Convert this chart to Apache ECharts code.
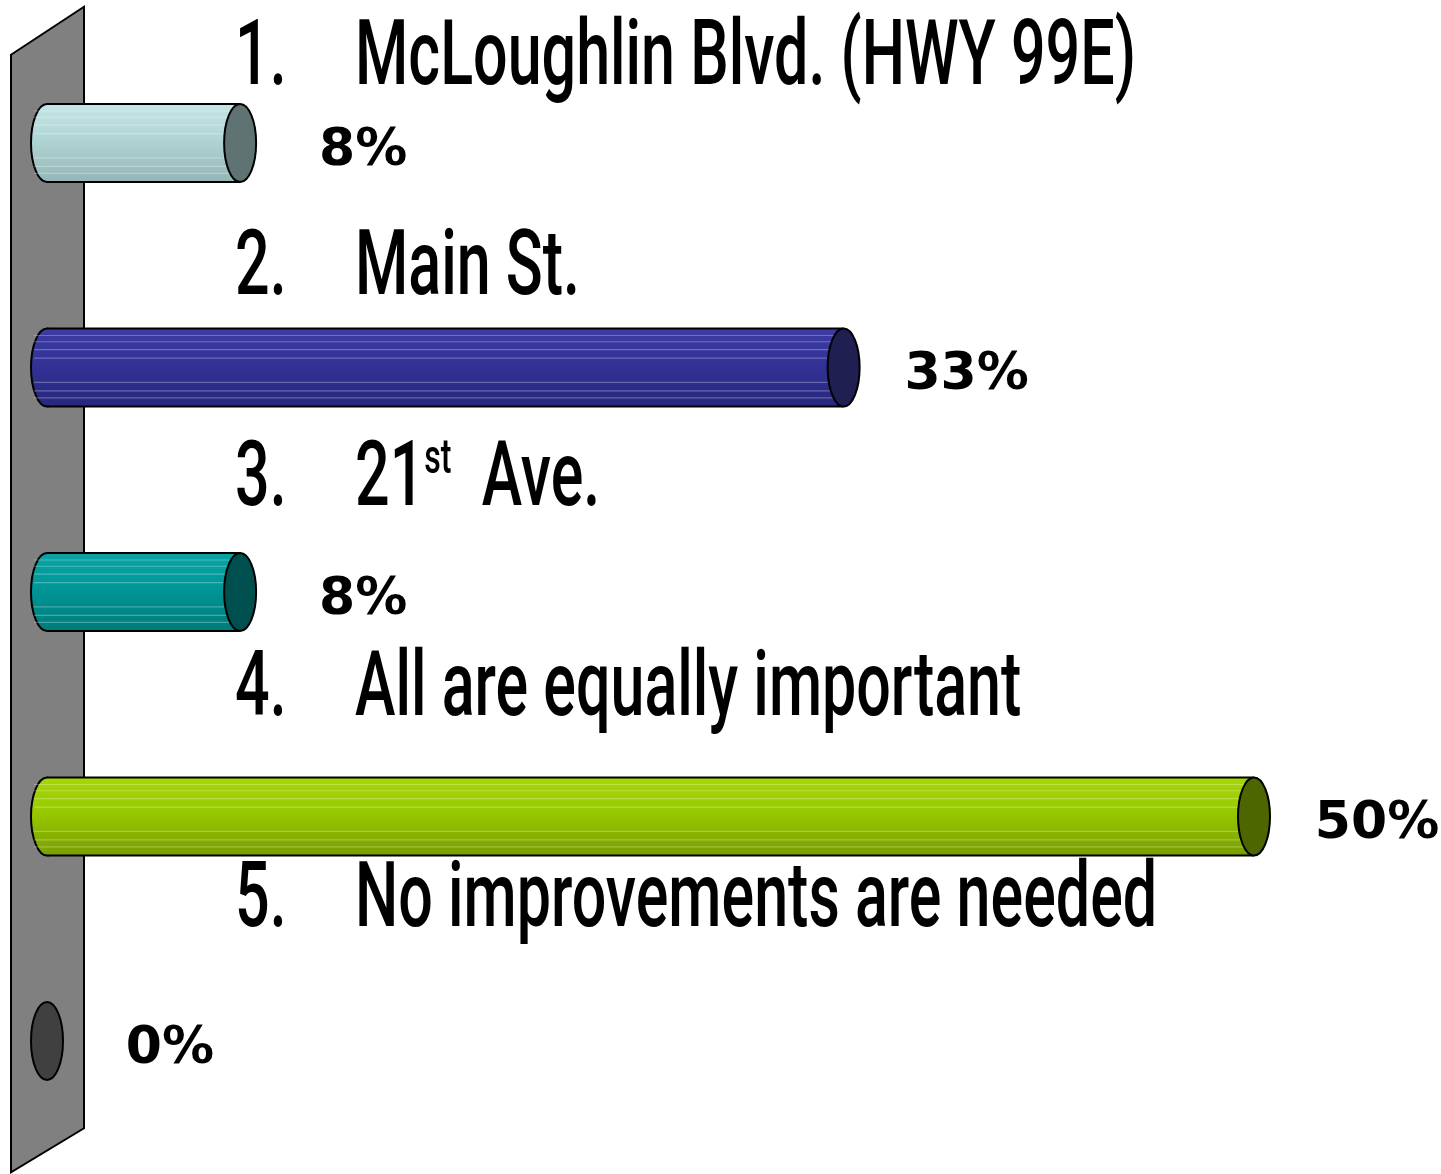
<!DOCTYPE html>
<html>
<head>
<meta charset="utf-8">
<title>Priority</title>
<script src="https://cdn.jsdelivr.net/npm/echarts@6/dist/echarts.min.js"></script>
<style>
html,body{margin:0;padding:0;background:#fff;}
#main{width:1441px;height:1174px;}
</style>
</head>
<body>
<div id="main"></div>
<script>
// 数据
var numbers = ['1.', '2.', '3.', '4.', '5.'];
var categories = ['McLoughlin Blvd. (HWY 99E)', 'Main St.', '21st  Ave.', 'All are equally important', 'No improvements are needed'];
var percents = [8, 33, 8, 50, 0];

// 样式
var bodyTop = ['#c6e5e5', '#3c3ca2', '#0ba3a3', '#a8d608', '#555555'];
var bodyMid = ['#b3d7d7', '#333399', '#009999', '#99cc00', '#4a4a4a'];
var bodyBot = ['#95b6b6', '#27277c', '#007a7a', '#789e00', '#3a3a3a'];
var capColors = ['#5f7373', '#1f1f52', '#004f4f', '#4d6600', '#404040'];
var stripes = [0.09, 0.17, 0.27, 0.38, 0.69, 0.8, 0.89];

function supText(s){
	return s.replace(/(\d+)(st|nd|rd|th)\b/, '$1{sup|$2}');
}

function renderWall(params, api){
	var cs = params.coordSys;
	var x0 = api.coord([0, 0])[0];
	var l = x0 - 36, r = x0 + 37;
	return {
		type: 'polygon',
		shape: {points: [[l, cs.y + 24], [r, cs.y - 24], [r, cs.y + cs.height - 25], [l, cs.y + cs.height + 19]]},
		style: {fill: '#808080', stroke: '#000', lineWidth: 2}
	};
}

function renderBar(params, api){
	var i = params.dataIndex;
	var v = api.value(0);
	var p0 = api.coord([0, i]);
	var p1 = api.coord([v, i]);
	var yc = p0[1];
	var h = 78, rx = 16;
	var x0 = p0[0], xe = p1[0];
	var top = yc - h / 2;
	var grad = new echarts.graphic.LinearGradient(0, 0, 0, 1, [
		{offset: 0, color: bodyTop[i]},
		{offset: 0.4, color: bodyMid[i]},
		{offset: 1, color: bodyBot[i]}
	]);
	var children = [];
	if (v > 0) {
		children.push({
			type: 'ellipse',
			shape: {cx: x0, cy: yc, rx: rx, ry: h / 2},
			style: {fill: grad, stroke: '#000', lineWidth: 2}
		});
		children.push({
			type: 'rect',
			shape: {x: x0, y: top, width: xe - x0, height: h},
			style: {fill: grad}
		});
		for (var k = 0; k < stripes.length; k++) {
			var sy = top + h * stripes[k];
			children.push({
				type: 'line',
				shape: {x1: x0 - rx + 3, y1: sy, x2: xe, y2: sy},
				style: {stroke: 'rgba(255,255,255,0.28)', lineWidth: 1.2}
			});
		}
		children.push({
			type: 'line',
			shape: {x1: x0, y1: top, x2: xe, y2: top},
			style: {stroke: '#000', lineWidth: 2}
		});
		children.push({
			type: 'line',
			shape: {x1: x0, y1: top + h, x2: xe, y2: top + h},
			style: {stroke: '#000', lineWidth: 2}
		});
	}
	children.push({
		type: 'ellipse',
		shape: {cx: xe, cy: yc, rx: rx, ry: h / 2},
		style: {fill: capColors[i], stroke: '#000', lineWidth: 2}
	});
	// 百分比
	children.push({
		type: 'text',
		x: xe + 123, y: yc + 8,
		style: {
			text: percents[i] + '%',
			fill: '#000',
			font: 'bold 52px "DejaVu Sans", Verdana, sans-serif',
			align: 'center', verticalAlign: 'middle'
		}
	});
	// 题目
	var ly = yc - 88 - 14 * i + 6;
	children.push({
		type: 'text',
		x: x0 + 188, y: ly, scaleX: 0.67,
		style: {
			text: numbers[i], fill: '#000',
			fontFamily: 'Roboto', fontWeight: 500, fontSize: 91,
			align: 'left', verticalAlign: 'middle'
		}
	});
	children.push({
		type: 'text',
		x: x0 + 308, y: ly, scaleX: 0.67,
		style: {
			text: supText(categories[i]), fill: '#000',
			fontFamily: 'Roboto', fontWeight: 500, fontSize: 91,
			align: 'left', verticalAlign: 'middle',
			rich: {
				sup: {fontFamily: 'Roboto', fontWeight: 500, fontSize: 48, verticalAlign: 'top', fill: '#000', padding: [0, 0, 40, 0]}
			}
		}
	});
	return {type: 'group', children: children};
}

var myChart = echarts.init(document.getElementById('main'));
var option = {
	backgroundColor: '#fff',
	animation: false,
	grid: {left: 47, width: 1207, top: 30.75, height: 1122.5},
	xAxis: {type: 'value', min: 0, max: 50, show: false},
	yAxis: {type: 'category', data: categories, inverse: true, show: false},
	series: [
		{
			type: 'custom',
			renderItem: renderWall,
			data: [[0, 0]],
			z: 1
		},
		{
			type: 'custom',
			renderItem: renderBar,
			encode: {x: 0, y: 1},
			data: percents.map(function(p, i){ return [p, i]; }),
			z: 2
		}
	]
};
myChart.setOption(option);
</script>
</body>
</html>
